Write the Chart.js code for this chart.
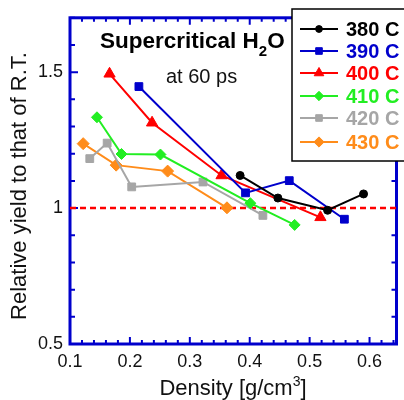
<!DOCTYPE html>
<html>
<head>
<meta charset="utf-8">
<script src="https://cdn.jsdelivr.net/npm/chart.js@4.4.0/dist/chart.umd.min.js"></script>
<style>
  body { margin: 0; background: #fff; }
  canvas { display: block; }
</style>
</head>
<body>
<canvas id="yieldChart" width="404" height="400"></canvas>
<script>
// relative yield (vs room temperature) against density, one curve per temperature
var temps = ["380 C", "390 C", "400 C", "410 C", "420 C", "430 C"];
var colors = ["#000000", "#0000cc", "#ff0000", "#22ee22", "#a6a6a6", "#ff8c1a"];
var markers = ["circle", "rect", "triangle", "rectRot", "rect", "rectRot"];
var markerSize = [4, 5.5, 6.5, 5.5, 5.5, 6];

var dens380 = [0.384, 0.447, 0.530, 0.590];
var yield380 = [1.120, 1.037, 0.992, 1.052];
var dens390 = [0.215, 0.393, 0.466, 0.558];
var yield390 = [1.447, 1.056, 1.101, 0.959];
var dens400 = [0.166, 0.237, 0.353, 0.518];
var yield400 = [1.494, 1.314, 1.120, 0.966];
var dens410 = [0.145, 0.186, 0.251, 0.401, 0.475];
var yield410 = [1.334, 1.199, 1.197, 1.018, 0.938];
var dens420 = [0.133, 0.162, 0.203, 0.322, 0.422];
var yield420 = [1.182, 1.239, 1.078, 1.096, 0.973];
var dens430 = [0.122, 0.177, 0.263, 0.362];
var yield430 = [1.237, 1.158, 1.136, 1.001];

var xTicks = [0.1, 0.2, 0.3, 0.4, 0.5, 0.6];
var yTicks = [0.5, 1, 1.5];
var xMin = 0.1, xMax = 0.645, yMin = 0.5, yMax = 1.7;
var refYield = 1;

var axisBlue = "#0000cc";
var textColor = "#111111";

function pts(xs, ys) {
    return xs.map(function (v, i) { return { x: v, y: ys[i] }; });
}

var series = [
    pts(dens380, yield380), pts(dens390, yield390), pts(dens400, yield400),
    pts(dens410, yield410), pts(dens420, yield420), pts(dens430, yield430)
];

var datasets = series.map(function (d, i) {
    return {
        label: temps[i],
        data: d,
        showLine: true,
        borderColor: colors[i],
        backgroundColor: colors[i],
        borderWidth: 2,
        pointStyle: markers[i],
        pointRadius: markerSize[i],
        pointBorderWidth: 1,
        pointBackgroundColor: colors[i],
        pointBorderColor: colors[i]
    };
});

// dashed line at yield = 1
datasets.push({
    label: "ref",
    data: [{ x: xMin, y: refYield }, { x: xMax, y: refYield }],
    showLine: true,
    borderColor: "#ff0000",
    borderWidth: 2.5,
    borderDash: [6, 4],
    pointRadius: 0
});

function drawMarker(ctx, style, r, x, y, color) {
    ctx.fillStyle = color;
    ctx.strokeStyle = color;
    ctx.lineWidth = 1;
    if (Chart.helpers && Chart.helpers.drawPoint) {
        Chart.helpers.drawPoint(ctx, { pointStyle: style, radius: r, borderWidth: 1, rotation: 0 }, x, y);
        return;
    }
    ctx.beginPath();
    ctx.arc(x, y, r, 0, Math.PI * 2);
    ctx.fill();
}

// blue box with inward ticks on all four sides
var framePlugin = {
    id: "frame",
    beforeDatasetsDraw: function (chart) {
        var ctx = chart.ctx, a = chart.chartArea;
        var xs = chart.scales.x, ys = chart.scales.y;
        ctx.save();
        ctx.strokeStyle = axisBlue;
        ctx.lineWidth = 2;
        ctx.beginPath();
        for (var i = 0; ; i++) {
            var v = +(xMin + i * 0.02).toFixed(2);
            if (v > xMax + 1e-9) break;
            var px = xs.getPixelForValue(v);
            var len = Math.abs(v * 10 - Math.round(v * 10)) < 1e-6 ? 7 : 4;
            ctx.moveTo(px, a.bottom); ctx.lineTo(px, a.bottom - len);
            ctx.moveTo(px, a.top); ctx.lineTo(px, a.top + len);
        }
        for (var j = 0; ; j++) {
            var w = +(yMin + j * 0.1).toFixed(1);
            if (w > yMax + 1e-9) break;
            var py = ys.getPixelForValue(w);
            var l2 = Math.abs(w * 2 - Math.round(w * 2)) < 1e-6 ? 8 : 5;
            ctx.moveTo(a.left, py); ctx.lineTo(a.left + l2, py);
            ctx.moveTo(a.right, py); ctx.lineTo(a.right - 5, py);
        }
        ctx.stroke();
        ctx.lineWidth = 3;
        ctx.strokeRect(a.left, a.top, a.right - a.left, a.bottom - a.top);
        ctx.restore();
    },
    afterDraw: function (chart) {
        var ctx = chart.ctx;
        ctx.save();
        ctx.fillStyle = textColor;

        // axis titles
        ctx.font = "22px 'Liberation Sans', Arial, sans-serif";
        ctx.textAlign = "center";
        ctx.textBaseline = "middle";
        ctx.save();
        ctx.translate(20, 186);
        ctx.rotate(-Math.PI / 2);
        ctx.fillText("Relative yield to that of R.T.", 0, 0);
        ctx.restore();

        ctx.textAlign = "left";
        ctx.textBaseline = "alphabetic";
        var xt1 = "Density [g/cm", xt2 = "3", xt3 = "]";
        ctx.font = "22px 'Liberation Sans', Arial, sans-serif";
        var w1 = ctx.measureText(xt1).width, w3 = ctx.measureText(xt3).width;
        ctx.font = "14px 'Liberation Sans', Arial, sans-serif";
        var w2 = ctx.measureText(xt2).width;
        var x0 = 233 - (w1 + w2 + w3) / 2;
        ctx.font = "22px 'Liberation Sans', Arial, sans-serif";
        ctx.fillText(xt1, x0, 395);
        ctx.fillText(xt3, x0 + w1 + w2, 395);
        ctx.font = "14px 'Liberation Sans', Arial, sans-serif";
        ctx.fillText(xt2, x0 + w1, 386);

        // in-plot caption
        ctx.fillStyle = "#000";
        ctx.font = "bold 22.5px 'Liberation Sans', Arial, sans-serif";
        var c1 = "Supercritical H";
        ctx.fillText(c1, 100, 47.5);
        var cw = ctx.measureText(c1).width;
        ctx.font = "bold 15px 'Liberation Sans', Arial, sans-serif";
        ctx.fillText("2", 100 + cw, 56);
        var cw2 = ctx.measureText("2").width;
        ctx.font = "bold 22.5px 'Liberation Sans', Arial, sans-serif";
        ctx.fillText("O", 100 + cw + cw2, 47.5);
        ctx.font = "20px 'Liberation Sans', Arial, sans-serif";
        ctx.fillStyle = textColor;
        ctx.fillText("at 60 ps", 166, 83);

        // legend box
        ctx.fillStyle = "#fff";
        ctx.fillRect(292, 9, 120, 152);
        ctx.strokeStyle = "#000";
        ctx.lineWidth = 1.5;
        ctx.strokeRect(292, 9, 120, 152);
        var rowY = [29, 51, 73, 96, 118, 142];
        ctx.font = "bold 20px 'Liberation Sans', Arial, sans-serif";
        ctx.textBaseline = "middle";
        for (var k = 0; k < temps.length; k++) {
            var yy = rowY[k];
            ctx.strokeStyle = colors[k];
            ctx.lineWidth = 2;
            ctx.beginPath();
            ctx.moveTo(300, yy); ctx.lineTo(338, yy);
            ctx.stroke();
            drawMarker(ctx, markers[k], markerSize[k] * 0.85, 319, yy, colors[k]);
            ctx.fillStyle = colors[k];
            ctx.fillText(temps[k], 346, yy + 1);
        }
        ctx.restore();
    }
};

var tickFont = { family: "'Liberation Sans', Arial, sans-serif", size: 18 };

new Chart(document.getElementById("yieldChart"), {
    type: "scatter",
    data: { datasets: datasets },
    options: {
        responsive: false,
        animation: false,
        layout: { padding: { top: 15, right: 2, left: 0, bottom: 0 } },
        plugins: { legend: { display: false }, tooltip: { enabled: false } },
        scales: {
            x: {
                type: "linear",
                min: xMin,
                max: xMax,
                grid: { display: false, drawTicks: false },
                border: { display: false },
                afterBuildTicks: function (s) { s.ticks = xTicks.map(function (v) { return { value: v }; }); },
                afterFit: function (s) { s.height = 56; },
                ticks: {
                    color: textColor,
                    font: tickFont,
                    padding: 7,
                    maxRotation: 0,
                    callback: function (v) { return String(v); }
                }
            },
            y: {
                type: "linear",
                min: yMin,
                max: yMax,
                grid: { display: false, drawTicks: false },
                border: { display: false },
                afterBuildTicks: function (s) { s.ticks = yTicks.map(function (v) { return { value: v }; }); },
                afterFit: function (s) { s.width = 70; },
                ticks: {
                    color: textColor,
                    font: tickFont,
                    padding: 7,
                    callback: function (v) { return String(v); }
                }
            }
        }
    },
    plugins: [framePlugin]
});
</script>
</body>
</html>
